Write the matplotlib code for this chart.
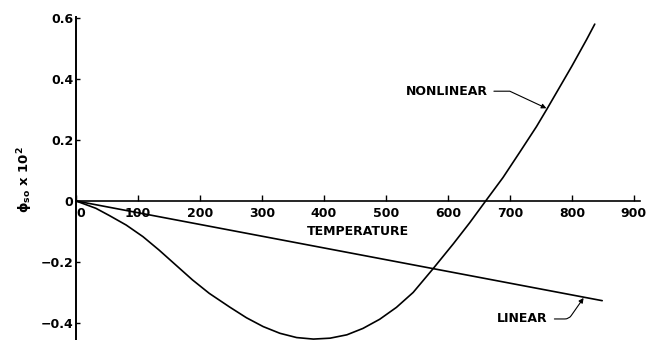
import matplotlib
matplotlib.use("Agg")
import matplotlib.pyplot as plt

# ---- data ----
nonlinear_x = [0, 32, 54, 81, 108, 134, 161, 188, 215, 248, 275, 302, 329, 356,
               383, 410, 437, 463, 490, 517, 544, 575, 609, 635, 661, 689, 716,
               743, 760, 800, 824, 837]
nonlinear_y = [0, -0.024, -0.048, -0.079, -0.117, -0.161, -0.21, -0.259, -0.303,
               -0.348, -0.383, -0.412, -0.434, -0.448, -0.453, -0.450, -0.439,
               -0.418, -0.388, -0.349, -0.300, -0.225, -0.140, -0.072, 0, 0.077,
               0.160, 0.244, 0.302, 0.442, 0.530, 0.580]
linear_x = [0, 849]
linear_y = [0, -0.327]

x_ticks = [0, 100, 200, 300, 400, 500, 600, 700, 800, 900]
x_tick_labels = [str(v) for v in x_ticks]
y_ticks = [-0.4, -0.2, 0, 0.2, 0.4, 0.6]
y_tick_labels = ["\u22120.4", "\u22120.2", "0", "0.2", "0.4", "0.6"]

plt.rcParams['font.family'] = ['DejaVu Sans']
plt.rcParams['font.weight'] = 'bold'
plt.rcParams['mathtext.default'] = 'bf'

fig = plt.figure(figsize=(6.63, 3.40), dpi=100)
ax = fig.add_axes([76/663, 0.0, 564/663, 323.5/340])

lw = 1.2
ax.plot(nonlinear_x, nonlinear_y, color='black', lw=lw,
        solid_capstyle='round', solid_joinstyle='round')
ax.plot(linear_x, linear_y, color='black', lw=lw, solid_capstyle='round')

ax.set_xlim(0, 910)
ax.set_ylim(-0.456, 0.605)

for s in ['top', 'right']:
    ax.spines[s].set_visible(False)
ax.spines['bottom'].set_position(('data', 0))
ax.spines['bottom'].set_linewidth(1.2)
ax.spines['left'].set_linewidth(1.4)

ax.set_xticks(x_ticks)
ax.set_xticklabels(x_tick_labels)
ax.set_yticks(y_ticks)
ax.set_yticklabels(y_tick_labels)
ax.tick_params(axis='x', direction='in', length=4, width=1, pad=4, labelsize=9)
ax.tick_params(axis='y', direction='in', length=3, width=1, pad=2, labelsize=9)
for lab in ax.get_xticklabels():
    lab.set_fontweight('bold')
for lab in ax.get_yticklabels():
    lab.set_fontweight('bold')
ax.get_xticklabels()[0].set_ha('left')

ax.text(455, -0.099, "TEMPERATURE", ha='center', va='center',
        fontsize=9, fontweight='bold')

fig.text(25/663, 1 - 180/340, "\u03d5$_{so}$ x 10$^{2}$", rotation=90,
         ha='center', va='center', fontsize=9.5, fontweight='bold')

ax.annotate("NONLINEAR", xy=(759, 0.304), xytext=(533, 0.36),
            ha='left', va='center', fontsize=9, fontweight='bold',
            arrowprops=dict(arrowstyle='-|>', color='black', lw=0.8,
                            mutation_scale=7, relpos=(1, 0.5), shrinkA=2,
                            shrinkB=0,
                            connectionstyle='angle,angleA=0,angleB=155,rad=0'))

ax.annotate("LINEAR", xy=(819, -0.318), xytext=(679, -0.387),
            ha='left', va='center', fontsize=9, fontweight='bold',
            arrowprops=dict(arrowstyle='-|>', color='black', lw=0.8,
                            mutation_scale=7, relpos=(1, 0.5), shrinkA=3,
                            shrinkB=0,
                            connectionstyle='angle,angleA=0,angleB=235,rad=4'))

fig.savefig("out.png", dpi=100)
